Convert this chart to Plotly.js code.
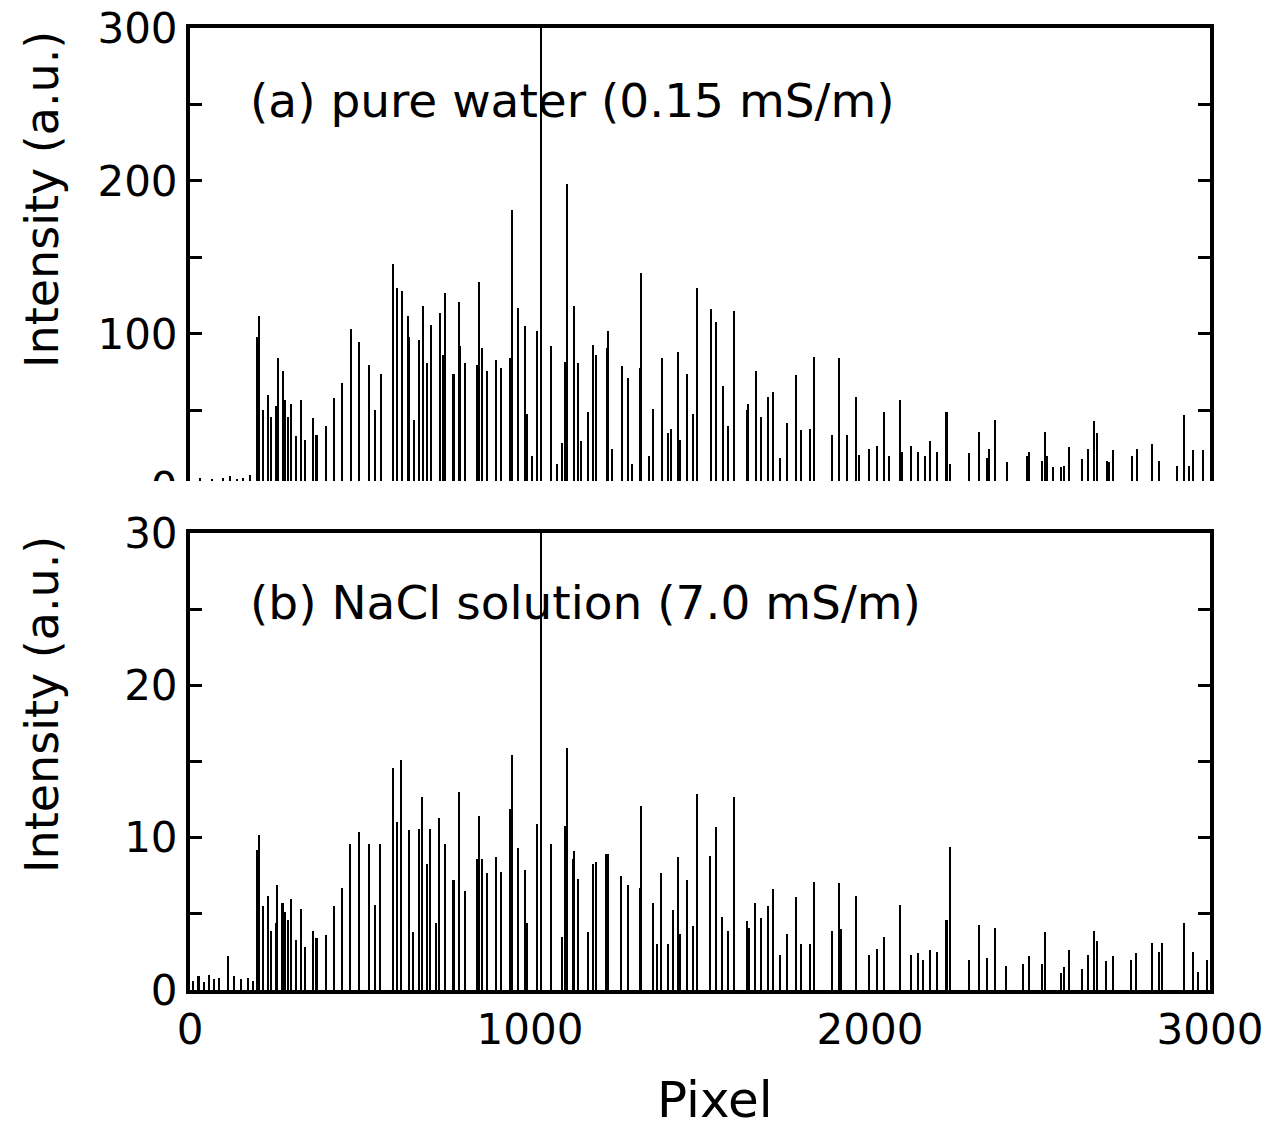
<!DOCTYPE html>
<html>
<head>
<meta charset="utf-8">
<script src="https://cdn.plot.ly/plotly-3.0.1.min.js"></script>
<style>html,body{margin:0;padding:0;background:#fff;}</style>
</head>
<body>
<div id="chart" style="width:1275px;height:1129px;"></div>
<script>
// (a) pure water: peak pixel positions and intensities (a.u.)
const pixelA = [29,64,98,118,137,157,176,
196,203,216,230,237,252,259,273,280,287,297,311,326,338,361,372,400,423,446,473,497,527,544,562,
596,608,623,641,645,659,674,684,696,708,735,745,749,775,791,794,810,843,851,858,873,900,915,941,946,
965,986,992,1005,1020,1033,1061,1080,1094,1103,1108,1129,1141,1150,1170,1184,1193,1226,1229,1240,1271,1288,1300,1324,1327,
1350,1363,1387,1406,1415,1434,1441,1461,1480,1490,1531,1546,1567,1581,1600,1637,1642,1664,1679,1699,1715,1735,1757,
1783,1798,1824,1836,1888,1909,1932,1959,1968,1996,2020,2042,2056,2088,2095,2120,2141,2163,2176,2197,2225,2235,
2292,2321,2343,2349,2368,2402,2461,2468,2505,2515,2520,2537,2561,2571,2585,2623,2640,2660,2668,2696,2703,2716,
2770,2784,2828,2851,2903,2924,2939,2949,2980];
const intensityA = [6,5,6,7,5,6,8,
98,112,50,60,46,53,84,76,57,46,54,33,57,31,45,34,40,58,68,103,95,80,50,74,
146,130,128,112,98,44,96,118,81,106,114,86,127,74,121,92,81,80,134,91,76,83,78,84,181,
117,105,48,20,102,400,92,15,29,82,198,118,81,30,49,93,86,91,102,25,79,71,15,78,140,
20,51,84,35,38,88,31,74,48,130,116,108,66,40,115,50,54,76,46,59,62,19,42,
73,37,38,85,34,84,34,59,21,25,27,49,20,57,23,27,23,20,30,23,49,15,
22,36,19,25,44,16,20,23,17,36,20,13,13,14,26,18,25,43,35,17,16,24,
20,25,28,17,14,47,14,24,24];

// (b) NaCl solution: peak pixel positions and intensities (a.u.)
const pixelB = [10,25,40,55,70,85,111,130,150,170,185,
196,203,216,229,237,252,257,272,280,287,297,311,326,338,361,372,400,423,446,471,497,527,544,559,
596,608,621,643,656,673,683,696,707,724,733,749,775,791,809,843,850,858,873,900,915,941,946,
965,985,992,1020,1033,1061,1094,1103,1108,1126,1129,1141,1170,1184,1193,1223,1229,1269,1288,1324,1327,
1362,1374,1386,1406,1421,1434,1441,1461,1478,1490,1530,1546,1564,1581,1600,1637,1644,1663,1679,1699,1715,1735,1755,
1783,1798,1824,1836,1887,1909,1916,1958,1997,2020,2041,2088,2120,2141,2157,2176,2196,2225,2234,
2292,2320,2345,2368,2400,2451,2467,2505,2515,2561,2570,2585,2623,2640,2660,2668,2694,2716,
2768,2782,2828,2850,2860,2924,2949,2966,2990];
const intensityB = [0.6,0.9,0.5,1.0,0.7,0.8,2.25,0.9,0.7,0.8,0.6,
9.2,10.2,5.5,6.2,3.9,4.4,6.9,5.7,5.1,4.6,6.0,3.3,5.3,2.8,3.9,3.4,3.6,5.5,6.7,9.6,10.4,9.6,5.6,9.6,
14.6,11.0,15.1,10.5,3.8,10.6,12.7,8.3,10.6,4.4,11.3,9.6,7.2,13.0,6.5,8.6,11.4,8.6,7.7,8.7,7.75,11.9,15.4,
9.3,7.9,4.4,10.9,40,9.6,3.5,10.8,15.9,8.6,9.1,7.3,3.8,8.3,8.4,8.9,8.9,7.5,6.9,6.7,12.1,
5.7,3.0,7.7,3.0,5.25,8.75,3.7,7.2,4.2,12.9,8.8,10.7,4.8,3.9,12.7,4.5,4.1,5.7,4.7,5.5,6.6,2.3,3.7,
6.1,3.0,3.0,7.1,3.9,7.0,4.0,6.2,2.3,2.7,3.5,5.6,2.3,2.4,2.0,2.6,2.5,4.6,9.4,
2.0,4.3,2.1,4.1,1.6,1.7,2.2,1.7,3.8,1.1,1.5,2.6,1.4,2.3,3.9,3.2,1.9,2.2,
2.0,2.4,3.1,2.5,3.1,4.4,2.5,1.2,2.0];

const FONT = 'DejaVu Sans, Liberation Sans, Arial, sans-serif';

const traces = [
  {type:'bar', x:pixelA, y:intensityA, width:6, xaxis:'x', yaxis:'y',
   marker:{color:'#000', line:{width:0}}, hoverinfo:'x+y'},
  {type:'bar', x:pixelB, y:intensityB, width:6, xaxis:'x2', yaxis:'y2',
   marker:{color:'#000', line:{width:0}}, hoverinfo:'x+y'}
];

const axBase = {
  showline:true, linewidth:4, linecolor:'#000', mirror:true,
  ticks:'inside', ticklen:12, tickwidth:3, tickcolor:'#000',
  showgrid:false, zeroline:false,
  tickfont:{family:FONT, size:42, color:'#000'}
};

const layout = {
  width:1275, height:1129,
  margin:{l:190, r:65, t:28, b:139},
  paper_bgcolor:'#fff', plot_bgcolor:'#fff',
  showlegend:false, bargap:0,
  font:{family:FONT, color:'#000'},
  xaxis: Object.assign({}, axBase, {anchor:'y', domain:[0,1], range:[0,3000], dtick:1000, tick0:0, ticks:'', showticklabels:false}),
  yaxis: Object.assign({}, axBase, {anchor:'x', domain:[0.5094,1], range:[-8.5,300], dtick:100, tick0:0, mirror:'ticks',
         minor:{dtick:50, ticks:'inside', ticklen:12, tickwidth:3, tickcolor:'#000'}}),
  xaxis2: Object.assign({}, axBase, {anchor:'y2', domain:[0,1], range:[0,3000], dtick:1000, tick0:0, ticks:''}),
  yaxis2: Object.assign({}, axBase, {anchor:'x2', domain:[0,0.475], range:[0,30], dtick:10, tick0:0, mirror:'ticks',
         minor:{dtick:5, ticks:'inside', ticklen:12, tickwidth:3, tickcolor:'#000'}}),
  shapes:[
    {type:'rect', xref:'paper', yref:'paper', x0:-0.3, x1:1.1, y0:0.4938, y1:0.5291,
     fillcolor:'#fff', line:{width:0}, layer:'above'}
  ],
  annotations:[
    {text:'(a) pure water (0.15 mS/m)', xref:'paper', yref:'paper', x:0.057, y:(990-100)/962,
     xanchor:'left', yanchor:'middle', showarrow:false, font:{family:FONT, size:47, color:'#000'}},
    {text:'(b) NaCl solution (7.0 mS/m)', xref:'paper', yref:'paper', x:0.057, y:(990-602)/962,
     xanchor:'left', yanchor:'middle', showarrow:false, font:{family:FONT, size:47, color:'#000'}},
    {text:'Intensity (a.u.)', xref:'paper', yref:'paper', x:(42-190)/1020, y:(990-200)/962,
     xanchor:'center', yanchor:'middle', textangle:-90, showarrow:false, font:{family:FONT, size:46, color:'#000'}},
    {text:'Intensity (a.u.)', xref:'paper', yref:'paper', x:(42-190)/1020, y:(990-705)/962,
     xanchor:'center', yanchor:'middle', textangle:-90, showarrow:false, font:{family:FONT, size:46, color:'#000'}},
    {text:'Pixel', xref:'paper', yref:'paper', x:(715-190)/1020, y:(990-1100)/962,
     xanchor:'center', yanchor:'middle', showarrow:false, font:{family:FONT, size:50, color:'#000'}}
  ]
};

Plotly.newPlot('chart', traces, layout, {displayModeBar:false, staticPlot:true});
</script>
</body>
</html>
